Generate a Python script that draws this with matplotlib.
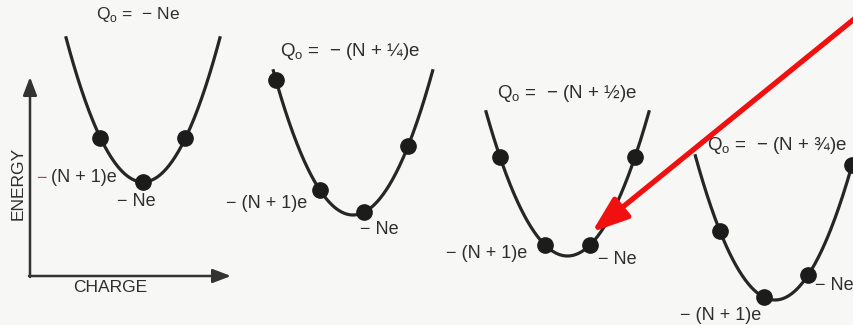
import numpy as np
import matplotlib
matplotlib.use("Agg")
import matplotlib.pyplot as plt

plt.rcParams['font.family'] = ['Liberation Sans', 'DejaVu Sans']

# offset of Q0 from -Ne, in units of e, for each panel
q0_offset = [0.0, -0.25, -0.5, -0.75]
q0_labels = ['Q$_{\\mathregular{o}}$ =  − Ne',
             'Q$_{\\mathregular{o}}$ =  − (N + ¼)e',
             'Q$_{\\mathregular{o}}$ =  − (N + ½)e',
             'Q$_{\\mathregular{o}}$ =  − (N + ¾)e']
# charge states drawn as dots, relative to -Ne (in e)
dot_charges = [[-1, 0, 1],
               [-2, -1, 0, 1],
               [-2, -1, 0, 1],
               [-2, -1, 0, 1]]

# panel layout in pixels: x of -Ne, px per e, y of the minimum
x_ne = [143, 364, 590, 808]
step = [42.5, 44, 45, 44]
y_min = [182, 215, 256, 300]
escale = 44  # px per unit of e^2/2C

ink = '#262626'
fig = plt.figure(figsize=(8.54, 3.25), dpi=100, facecolor='#f7f7f5')
ax = fig.add_axes([0, 0, 1, 1])
ax.set_xlim(0, 854)
ax.set_ylim(325, 0)
ax.axis('off')

for i in range(4):
    dq = np.linspace(-1.82, 1.82, 200)
    xc = x_ne[i] + (q0_offset[i] + dq) * step[i]
    yc = y_min[i] - escale * dq ** 2
    ax.plot(xc, yc, color=ink, lw=2.3, solid_capstyle='butt')

    q = np.array(dot_charges[i], dtype=float)
    xd = x_ne[i] + q * step[i]
    yd = y_min[i] - escale * (q - q0_offset[i]) ** 2
    ax.plot(xd, yd, 'o', ms=11, color='#1c1c1c', mec='#1c1c1c')

fs = 12.5
txt = dict(color='#2e2e2e', fontsize=fs, ha='center', va='center')
title_pos = [(138, 15), (350, 52), (567, 93), (777, 145)]
for i in range(4):
    ax.text(title_pos[i][0], title_pos[i][1], q0_labels[i],
            color='#2e2e2e', fontsize=13.5 if i else fs, ha='center', va='center')

# charge-state labels
lab = dict(color='#2e2e2e', fontsize=13, ha='center', va='center')
ax.text(41, 178, '−', color='#b0483a', fontsize=13, ha='center', va='center')
ax.text(51, 178, '(N + 1)e', color='#2e2e2e', fontsize=13, ha='left', va='center')
ax.text(136, 202, '− Ne', **lab)
ax.text(267, 203, '− (N + 1)e', **lab)
ax.text(379, 230, '− Ne', **lab)
ax.text(487, 254, '− (N + 1)e', **lab)
ax.text(617, 260, '− Ne', **lab)
ax.text(721, 316, '− (N + 1)e', **lab)
ax.text(815, 285, '− Ne', color='#2e2e2e', fontsize=13, ha='left', va='center')

# energy / charge axes
arrow = dict(arrowstyle='-|>,head_length=1.1,head_width=0.42', color='#333333',
             lw=1.8, shrinkA=0, shrinkB=0)
ax.annotate('', xy=(30, 77), xytext=(30, 277), arrowprops=arrow)
ax.annotate('', xy=(231, 276), xytext=(29, 276), arrowprops=arrow)
ax.text(18, 183, 'ENERGY', rotation=90, **txt)
ax.text(110, 288, 'CHARGE', **txt)

# red pointer
ax.annotate('', xy=(592, 232), xytext=(880, -2),
            arrowprops=dict(arrowstyle='-|>,head_length=2.2,head_width=0.8',
                            color='#f01010', lw=3.8, shrinkA=0, shrinkB=0))

fig.savefig('out.png', dpi=100, facecolor=fig.get_facecolor())
